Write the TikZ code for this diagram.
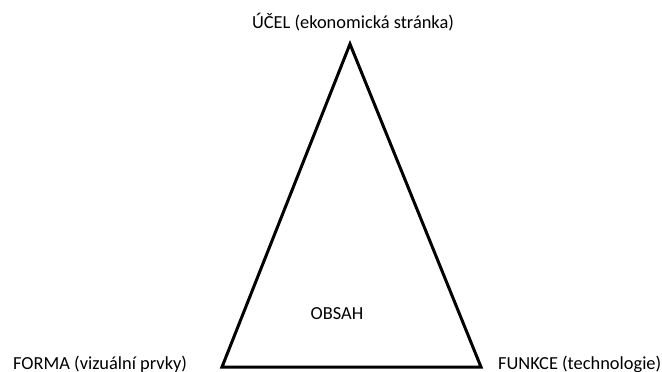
\documentclass[tikz,border=0pt]{standalone}
\usepackage{fontspec}
\setmainfont{Carlito}
\begin{document}
\begin{tikzpicture}[x=1pt,y=-1pt,
  lbl/.style={inner sep=0pt, font=\fontsize{18.4}{22}\selectfont, text=black, anchor=base},
  tri/.style={draw=black, line width=3pt}]
\useasboundingbox (0,0) rectangle (662,372);
\coordinate (apex) at (350,44);
\coordinate (bl) at (222,367);
\coordinate (br) at (481,367);
\draw[tri] (apex) -- (bl) -- (br) -- cycle;
\node[lbl] (ucel) at (353,28) {ÚČEL (ekonomická stránka)};
\node[lbl] (obsah) at (337,319) {OBSAH};
\node[lbl, anchor=base west] (forma) at (13,369) {FORMA (vizuální prvky)};
\node[lbl, anchor=base west] (funkce) at (498,369) {FUNKCE (technologie)};
\end{tikzpicture}
\end{document}
